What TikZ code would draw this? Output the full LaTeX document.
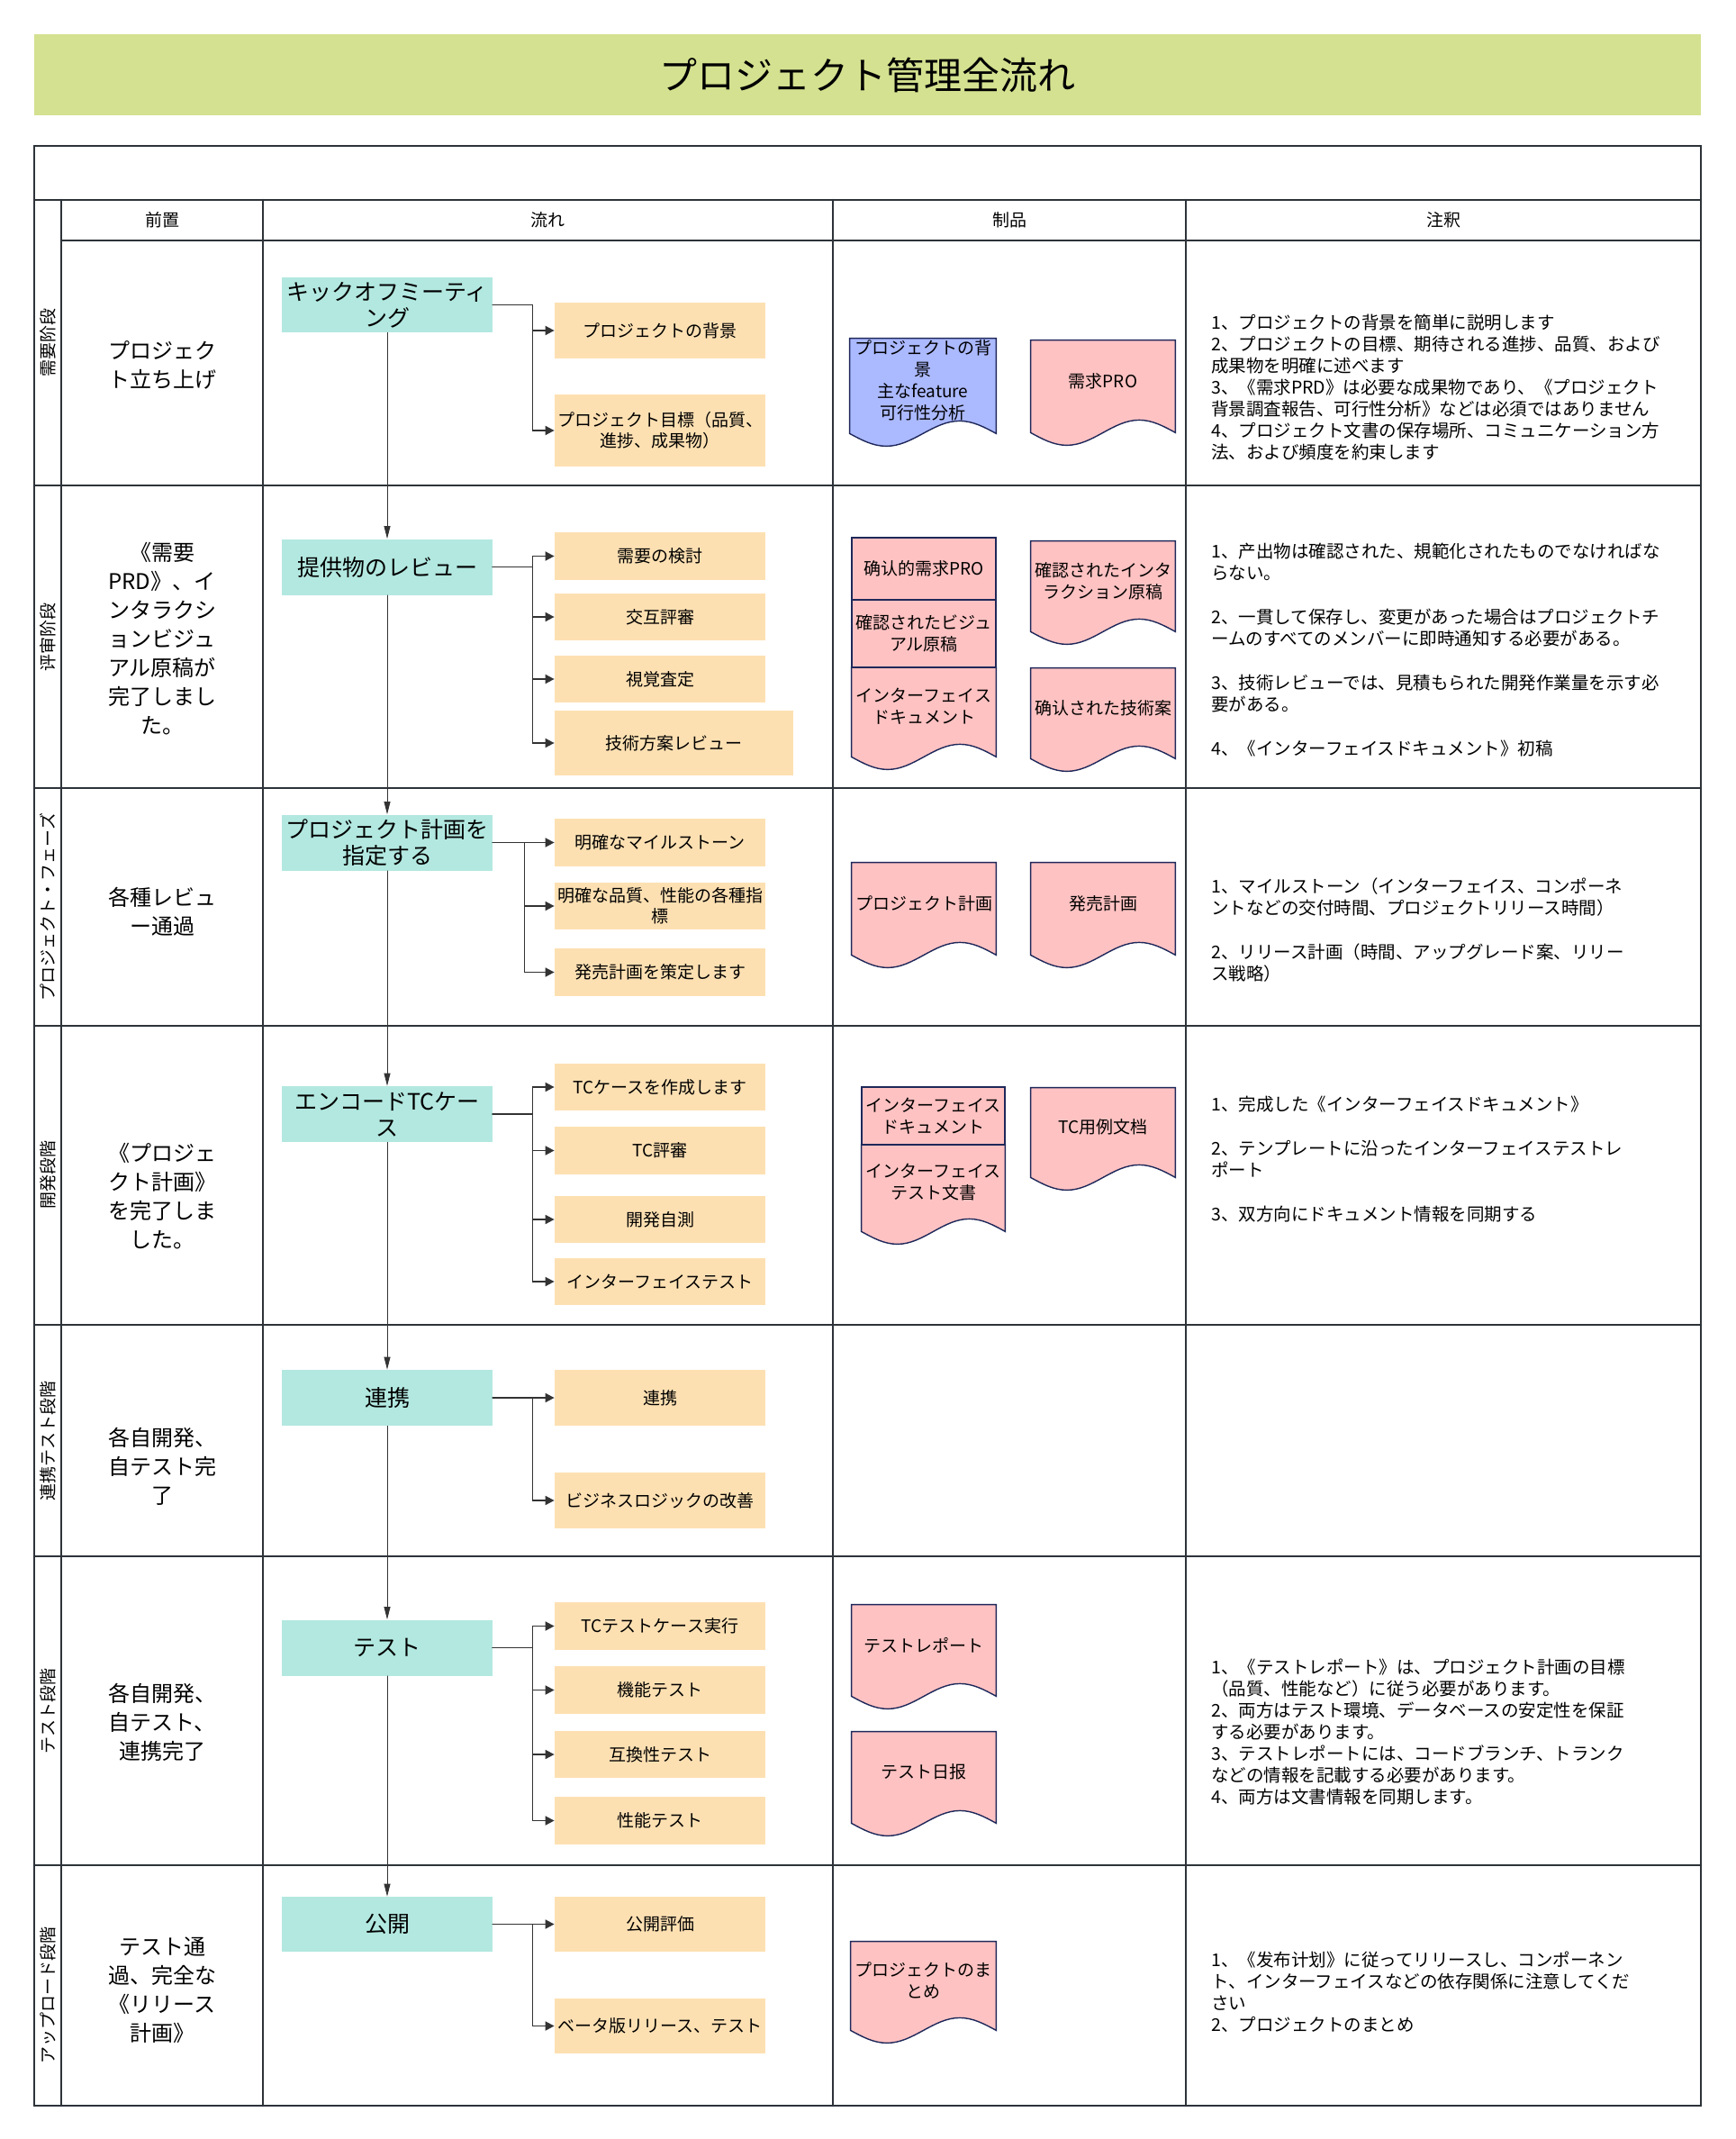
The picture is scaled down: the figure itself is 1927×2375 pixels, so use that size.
\documentclass[tikz,border=0pt]{standalone}
\usepackage{fontspec}
\setmainfont{Noto Sans CJK JP}
\usepackage{tikz}
\usetikzlibrary{arrows.meta,calc}
\usepackage{xcolor}
\definecolor{titlegreen}{RGB}{212,225,144}
\definecolor{flowteal}{RGB}{178,232,224}
\definecolor{taskpeach}{RGB}{253,224,178}
\definecolor{docpink}{RGB}{255,194,194}
\definecolor{docblue}{RGB}{171,185,255}
\definecolor{docnavy}{RGB}{30,40,90}
\definecolor{rulegray}{RGB}{45,51,57}
\definecolor{arrowgray}{RGB}{51,51,51}
\pgfdeclarelayer{back}
\pgfsetlayers{back,main}
% document outline with wavy bottom, drawn behind the named node
\newcommand\docshape[2]{%
\begin{pgfonlayer}{back}
\coordinate (#1-se) at ($(#1.south east)+(0,12)$);
\coordinate (#1-sw) at ($(#1.south west)+(0,12)$);
\filldraw[draw=docnavy,line width=0.7pt,fill=#2] (#1.north west) -- (#1.north east) -- (#1-se)
  sin ($(#1-se)!0.25!(#1-sw)+(0,-14)$)
  cos ($(#1-se)!0.5!(#1-sw)$)
  sin ($(#1-se)!0.75!(#1-sw)+(0,14)$)
  cos (#1-sw) -- cycle;
\end{pgfonlayer}}

\begin{document}
\begin{tikzpicture}[x=0.5pt,y=-0.5pt,line cap=round,
  tablerule/.style={draw=rulegray,line width=1.3pt},
  headlabel/.style={font={\fontsize{9.5pt}{11.5pt}\selectfont}},
  stagelabel/.style={rotate=90,font={\fontsize{9.5pt}{11.5pt}\selectfont}},
  prelabel/.style={align=center,font={\fontsize{12pt}{16pt}\selectfont}},
  flowbox/.style={fill=flowteal,minimum width=117pt,minimum height=31pt,inner sep=0pt,align=center,font={\fontsize{12.5pt}{14.5pt}\selectfont}},
  taskbox/.style={fill=taskpeach,minimum width=117pt,inner sep=0pt,align=center,font={\fontsize{9.5pt}{11.5pt}\selectfont}},
  docbox/.style={minimum width=80pt,inner sep=0pt,align=center,font={\fontsize{9.5pt}{12pt}\selectfont}},
  docrect/.style={docbox,draw=docnavy,line width=0.7pt,fill=docpink},
  notetext/.style={anchor=west,align=left,inner sep=0pt,font={\fontsize{9.75pt}{12pt}\selectfont}},
  flowarrow/.style={draw=arrowgray,line width=0.4pt,-{Triangle[length=7pt,width=3.5pt]}},
  brancharrow/.style={draw=arrowgray,line width=0.9pt,-{Triangle[length=5pt,width=5pt]}}]
\useasboundingbox (0,0) rectangle (1927,2375);

% title
\node[fill=titlegreen,minimum width=925.5pt,minimum height=45pt,font={\fontsize{21pt}{25pt}\selectfont}] (title) at (963.5,83) {プロジェクト管理全流れ};

% table
\draw[tablerule] (38,162) rectangle (1889,222);
\foreach \y in {222,539,875,1139,1471,1728,2071,2338}
  \draw[tablerule] (38,\y) -- (1889,\y);
\draw[tablerule] (68,267) -- (1889,267);
\foreach \x in {38,68,292,925,1317,1889}
  \draw[tablerule] (\x,222) -- (\x,2338);
\node[headlabel] (h1) at (180,244.5) {前置};
\node[headlabel] (h2) at (608,244.5) {流れ};
\node[headlabel] (h3) at (1121,244.5) {制品};
\node[headlabel] (h4) at (1603,244.5) {注釈};

% stage labels and preconditions
\node[stagelabel] (s1) at (53,381) {需要阶段};
\node[stagelabel] (s2) at (53,707) {评审阶段};
\node[stagelabel] (s3) at (53,1007) {プロジェクト・フェーズ};
\node[stagelabel] (s4) at (53,1304) {開発段階};
\node[stagelabel] (s5) at (53,1600) {連携テスト段階};
\node[stagelabel] (s6) at (53,1900) {テスト段階};
\node[stagelabel] (s7) at (53,2215) {アップロード段階};
\node[prelabel] (p1) at (180,405) {プロジェク\\ト立ち上げ};
\node[prelabel] (p2) at (180,709) {《需要\\PRD》、イ\\ンタラクシ\\ョンビジュ\\アル原稿が\\完了しまし\\た。};
\node[prelabel] (p3) at (180,1012) {各種レビュ\\ー通過};
\node[prelabel] (p4) at (180,1328) {《プロジェ\\クト計画》\\を完了しま\\した。};
\node[prelabel] (p5) at (180,1628) {各自開発、\\自テスト完\\了};
\node[prelabel] (p6) at (180,1912) {各自開発、\\自テスト、\\連携完了};
\node[prelabel] (p7) at (180,2210) {テスト通\\過、完全な\\《リリース\\計画》};

% flow: main steps
\node[flowbox,minimum height=30.5pt] (kickoff) at (430,338.5) {キックオフミーティ\\ング};
\node[flowbox] (review) at (430,629.5) {提供物のレビュー};
\node[flowbox] (planning) at (430,935.5) {プロジェクト計画を\\指定する};
\node[flowbox] (encode) at (430,1237) {エンコードTCケー\\ス};
\node[flowbox] (integ) at (430,1552) {連携};
\node[flowbox] (testing) at (430,1829.5) {テスト};
\node[flowbox,minimum height=30.5pt] (release) at (430,2136.5) {公開};
\draw[flowarrow] (kickoff.south) -- (review.north);
\draw[flowarrow] (review.south) -- (planning.north);
\draw[flowarrow] (planning.south) -- (encode.north);
\draw[flowarrow] (encode.south) -- (integ.north);
\draw[flowarrow] (integ.south) -- (testing.north);
\draw[flowarrow] (testing.south) -- (release.north);

% flow: tasks
\node[taskbox,minimum height=31pt] (t11) at (733,367) {プロジェクトの背景};
\node[taskbox,minimum height=40pt] (t12) at (733,478) {プロジェクト目標（品質、\\進捗、成果物）};
\foreach \t in {t11,t12}
  \draw[brancharrow] (kickoff.east) -- ++(44,0) |- (\t.west);

\node[taskbox,minimum height=26.5pt] (t21) at (733,617.5) {需要の検討};
\node[taskbox,minimum height=26pt] (t22) at (733,685) {交互評審};
\node[taskbox,minimum height=26pt] (t23) at (733,754) {視覚査定};
\node[taskbox,minimum width=132.5pt,minimum height=36pt] (t24) at (748.5,825) {技術方案レビュー};
\foreach \t in {t21,t22,t23,t24}
  \draw[brancharrow] (review.east) -- ++(44,0) |- (\t.west);

\node[taskbox,minimum height=26.5pt] (t31) at (733,935.5) {明確なマイルストーン};
\node[taskbox,minimum height=26pt] (t32) at (733,1006) {明確な品質、性能の各種指\\標};
\node[taskbox,minimum height=26.5pt] (t33) at (733,1079.5) {発売計画を策定します};
\foreach \t in {t31,t32,t33}
  \draw[brancharrow] (planning.east) -- ++(35,0) |- (\t.west);

\node[taskbox,minimum height=26pt] (t41) at (733,1207) {TCケースを作成します};
\node[taskbox,minimum height=26.5pt] (t42) at (733,1277.5) {TC評審};
\node[taskbox,minimum height=26pt] (t43) at (733,1354) {開発自測};
\node[taskbox,minimum height=26pt] (t44) at (733,1423) {インターフェイステスト};
\foreach \t in {t41,t42,t43,t44}
  \draw[brancharrow] (encode.east) -- ++(44,0) |- (\t.west);

\node[taskbox,minimum height=31pt] (t51) at (733,1552) {連携};
\node[taskbox,minimum height=31pt] (t52) at (733,1666) {ビジネスロジックの改善};
\foreach \t in {t51,t52}
  \draw[brancharrow] (integ.east) -- ++(44,0) |- (\t.west);

\node[taskbox,minimum height=26.5pt] (t61) at (733,1805.5) {TCテストケース実行};
\node[taskbox,minimum height=26.5pt] (t62) at (733,1876.5) {機能テスト};
\node[taskbox,minimum height=26pt] (t63) at (733,1948) {互換性テスト};
\node[taskbox,minimum height=26.5pt] (t64) at (733,2021.5) {性能テスト};
\foreach \t in {t61,t62,t63,t64}
  \draw[brancharrow] (testing.east) -- ++(44,0) |- (\t.west);

\node[taskbox,minimum height=30.5pt] (t71) at (733,2136.5) {公開評価};
\node[taskbox,minimum height=30.5pt] (t72) at (733,2249.5) {ベータ版リリース、テスト};
\foreach \t in {t71,t72}
  \draw[brancharrow] (release.east) -- ++(44,0) |- (\t.west);

% products
\node[docbox,minimum width=81pt,minimum height=46.5pt] (d11) at (1025,422.5) {プロジェクトの背\\景\\主なfeature\\可行性分析};
\docshape{d11}{docblue}
\node[docbox,minimum height=45pt] (d12) at (1225,423) {需求PRO};
\docshape{d12}{docpink}

\node[docrect,minimum height=34.5pt] (d21) at (1026,631.5) {确认的需求PRO};
\node[docrect,minimum height=37.5pt] (d22) at (1026,703.5) {確認されたビジュ\\アル原稿};
\node[docbox,minimum height=43.5pt] (d23) at (1026,784.5) {インターフェイス\\ドキュメント};
\docshape{d23}{docpink}
\node[docbox,minimum height=44pt] (d24) at (1225,645) {確認されたインタ\\ラクション原稿};
\docshape{d24}{docpink}
\node[docbox,minimum height=44pt] (d25) at (1225,786) {确认された技術案};
\docshape{d25}{docpink}

\node[docbox,minimum height=45pt] (d31) at (1026,1003) {プロジェクト計画};
\docshape{d31}{docpink}
\node[docbox,minimum height=45pt] (d32) at (1225,1003) {発売計画};
\docshape{d32}{docpink}

\node[docrect,minimum width=79.5pt,minimum height=32pt] (d41) at (1036.5,1239) {インターフェイス\\ドキュメント};
\node[docbox,minimum width=79.5pt,minimum height=42pt] (d42) at (1036.5,1313) {インターフェイス\\テスト文書};
\docshape{d42}{docpink}
\node[docbox,minimum height=43.5pt] (d43) at (1225,1251.5) {TC用例文档};
\docshape{d43}{docpink}

\node[docbox,minimum height=44.5pt] (d61) at (1026,1826.5) {テストレポート};
\docshape{d61}{docpink}
\node[docbox,minimum height=44.5pt] (d62) at (1026,1967.5) {テスト日报};
\docshape{d62}{docpink}

\node[docbox,minimum width=80.5pt,minimum height=43pt] (d71) at (1025.5,2199) {プロジェクトのま\\とめ};
\docshape{d71}{docpink}

% notes
\node[notetext] (n1) at (1345,430) {1、プロジェクトの背景を簡単に説明します\\
2、プロジェクトの目標、期待される進捗、品質、および\\
成果物を明確に述べます\\
3、《需求PRD》は必要な成果物であり、《プロジェクト\\
背景調査報告、可行性分析》などは必須ではありません\\
4、プロジェクト文書の保存場所、コミュニケーション方\\
法、および頻度を約束します};
\node[notetext] (n2) at (1345,722) {1、产出物は確認された、規範化されたものでなければな\\
らない。\\[12.5pt]
2、一貫して保存し、変更があった場合はプロジェクトチ\\
ームのすべてのメンバーに即時通知する必要がある。\\[12.5pt]
3、技術レビューでは、見積もられた開発作業量を示す必\\
要がある。\\[12.5pt]
4、《インターフェイスドキュメント》初稿};
\node[notetext] (n3) at (1345,1033) {1、マイルストーン（インターフェイス、コンポーネ\\
ントなどの交付時間、プロジェクトリリース時間）\\[12.5pt]
2、リリース計画（時間、アップグレード案、リリー\\
ス戦略）};
\node[notetext] (n4) at (1345,1287) {1、完成した《インターフェイスドキュメント》\\[12.5pt]
2、テンプレートに沿ったインターフェイステストレ\\
ポート\\[12.5pt]
3、双方向にドキュメント情報を同期する};
\node[notetext] (n6) at (1345,1923) {1、《テストレポート》は、プロジェクト計画の目標\\
（品質、性能など）に従う必要があります。\\
2、両方はテスト環境、データベースの安定性を保証\\
する必要があります。\\
3、テストレポートには、コードブランチ、トランク\\
などの情報を記載する必要があります。\\
4、両方は文書情報を同期します。};
\node[notetext] (n7) at (1345,2212) {1、《发布计划》に従ってリリースし、コンポーネン\\
ト、インターフェイスなどの依存関係に注意してくだ\\
さい\\
2、プロジェクトのまとめ};
\end{tikzpicture}
\end{document}
